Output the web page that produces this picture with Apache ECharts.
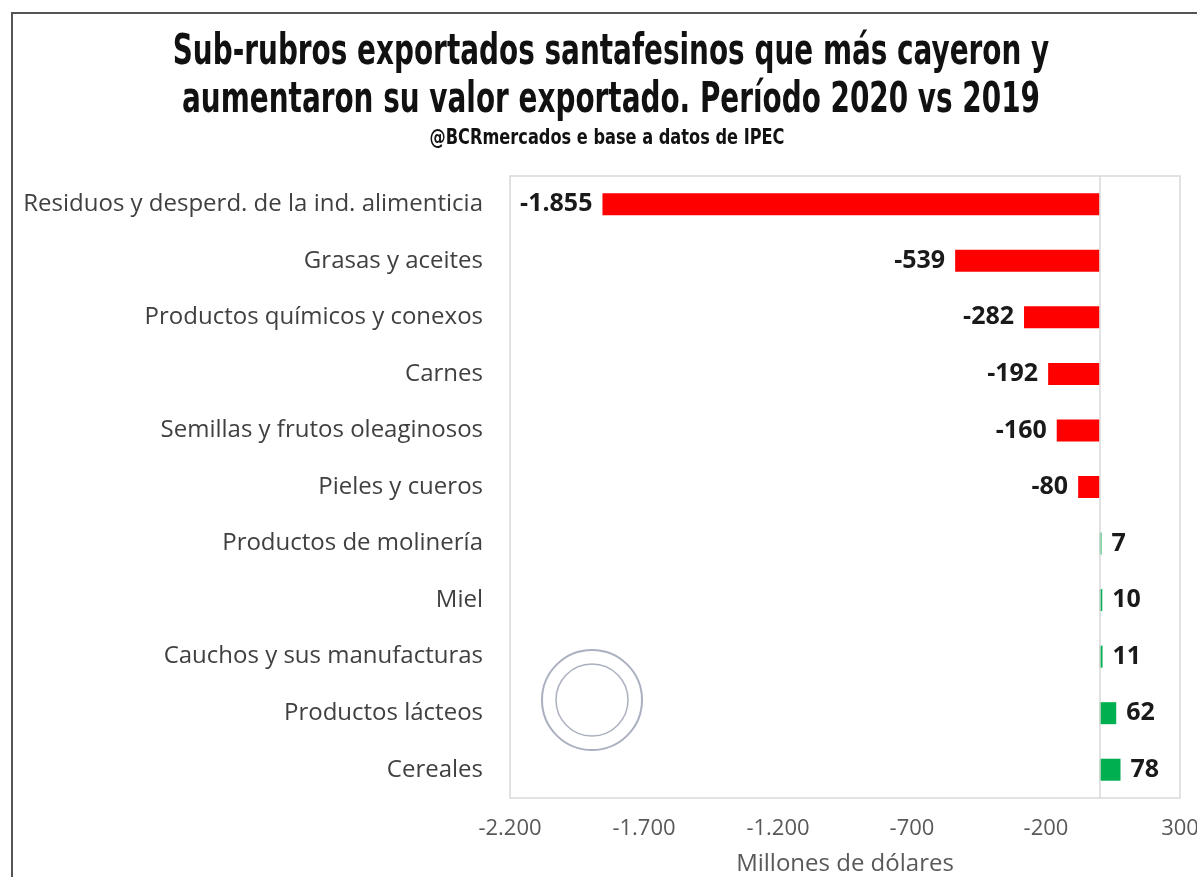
<!DOCTYPE html>
<html><head><meta charset="utf-8">
<script src="https://cdn.jsdelivr.net/npm/echarts@6/dist/echarts.min.js"></script>
<style>html,body{margin:0;padding:0;background:#fff}#c{width:1197px;height:877px}</style>
</head><body><div id="c"></div>
<script>
const categories = ["Residuos y desperd. de la ind. alimenticia","Grasas y aceites","Productos químicos y conexos","Carnes","Semillas y frutos oleaginosos","Pieles y cueros","Productos de molinería","Miel","Cauchos y sus manufacturas","Productos lácteos","Cereales"];
const values = [-1855,-539,-282,-192,-160,-80,7,10,11,62,78];
const titleLines = ["Sub-rubros exportados santafesinos que más cayeron y","aumentaron su valor exportado. Período 2020 vs 2019"];
const subtitle = "@BCRmercados e base a datos de IPEC";
const axisName = "Millones de dólares";

function fmt(v){const s=Math.abs(v).toString().replace(/\B(?=(\d{3})+(?!\d))/g,'.');return (v<0?'-':'')+s;}

const chart = echarts.init(document.getElementById('c'));
chart.setOption({
  animation:false,
  grid:{left:510,right:17,top:176,bottom:79,show:true,borderColor:'#d9d9d9',borderWidth:1.5,
    containLabel:false,outerBoundsMode:'none'},
  xAxis:{type:'value',min:-2200,max:300,interval:500,
    axisLine:{show:false},axisTick:{show:false},splitLine:{show:false},
    axisLabel:{formatter:fmt,color:'#595959',fontSize:22,fontFamily:'Open Sans',margin:20},
    name:axisName,nameLocation:'middle',nameGap:54,
    nameTextStyle:{color:'#595959',fontSize:24,fontFamily:'Open Sans'}},
  yAxis:{type:'category',data:categories,inverse:true,
    axisLine:{show:false},axisTick:{show:false},splitLine:{show:false},
    axisLabel:{color:'#404040',fontSize:24,fontFamily:'Open Sans',margin:27}},
  series:[{type:'bar',barWidth:22,
    data:values.map(v=>({value:v,itemStyle:{color:v<0?'#ff0000':'#00b050'},
      label:{show:true,position:v<0?'left':'right',distance:10,formatter:()=>fmt(v)}})),
    label:{color:'#1a1a1a',fontSize:25,fontWeight:'bold',fontFamily:'Open Sans'},
    markLine:{silent:true,symbol:'none',label:{show:false},
      lineStyle:{color:'#d9d9d9',type:'solid',width:1.5},data:[{xAxis:0}]}
  }],
  graphic:[
    {type:'polyline',shape:{points:[[12,877],[12,13],[1197,13]]},style:{stroke:'#555',lineWidth:2,fill:null}},
    {type:'text',x:611,y:53,scaleY:1.4,style:{text:titleLines[0],font:'bold 31px "DejaVu Sans Condensed"',fill:'#111',align:'center',verticalAlign:'middle'}},
    {type:'text',x:611,y:101,scaleY:1.4,style:{text:titleLines[1],font:'bold 31px "DejaVu Sans Condensed"',fill:'#111',align:'center',verticalAlign:'middle'}},
    {type:'text',x:607,y:139,scaleY:1.15,style:{text:subtitle,font:'bold 18px "DejaVu Sans Condensed"',fill:'#111',align:'center',verticalAlign:'middle'}},
    {type:'circle',shape:{cx:592,cy:700,r:50},style:{fill:null,stroke:'#aab0bf',lineWidth:2}},
    {type:'circle',shape:{cx:592,cy:700,r:36},style:{fill:null,stroke:'#aab0bf',lineWidth:1.5}}
  ]
});
</script></body></html>
